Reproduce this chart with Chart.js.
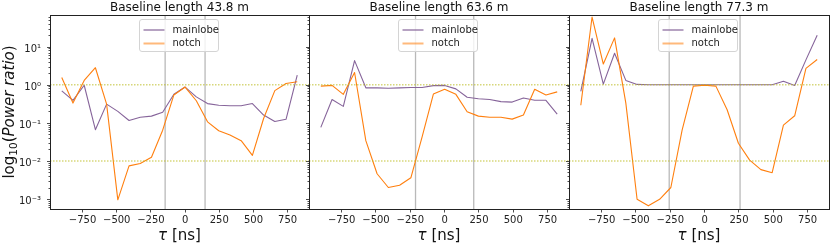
<!DOCTYPE html>
<html>
<head>
<meta charset="utf-8">
<script src="https://cdn.jsdelivr.net/npm/chart.js@4.4.1/dist/chart.umd.min.js"></script>
<style>
  html, body { margin: 0; padding: 0; background: #fff; }
  #wrap { position: relative; width: 830px; height: 243px; overflow: hidden; }
  canvas { position: absolute; top: 0; }
</style>
</head>
<body>
<div id="wrap">
  <canvas id="p0" width="312" height="243" style="left:0px"></canvas>
  <canvas id="p1" width="272" height="243" style="left:300px"></canvas>
  <canvas id="p2" width="270" height="243" style="left:560px"></canvas>
</div>
<script>
// delay bins (ns)
const tau = [-902, -820, -738, -656, -574, -492, -410, -328, -246, -164, -82, 0,
             82, 164, 246, 328, 410, 492, 574, 656, 738, 820];

const baselines = ['43.8', '63.6', '77.3'];
// horizon delay for each baseline (ns)
const horizonNs = [146, 212, 258];

const mainlobe43 = [0.69, 0.39, 0.97, 0.066, 0.31, 0.20, 0.115, 0.14, 0.15, 0.19, 0.56, 0.87,
                    0.48, 0.32, 0.29, 0.28, 0.28, 0.32, 0.16, 0.108, 0.124, 1.8];
const notch43 = [1.55, 0.33, 1.3, 2.8, 0.31, 0.00095, 0.0074, 0.0085, 0.0125, 0.064, 0.54, 0.87,
                 0.38, 0.106, 0.062, 0.048, 0.034, 0.014, 0.13, 0.70, 1.08, 1.2];

const mainlobe63 = [0.076, 0.41, 0.27, 4.3, 0.83, 0.83, 0.81, 0.83, 0.85, 0.85, 0.95, 0.96,
                    0.78, 0.47, 0.43, 0.41, 0.36, 0.35, 0.45, 0.39, 0.39, 0.17];
const notch63 = [0.92, 0.96, 0.56, 2.1, 0.034, 0.0046, 0.0020, 0.0023, 0.0036, 0.043, 0.57, 0.76,
                 0.56, 0.195, 0.15, 0.14, 0.14, 0.125, 0.16, 0.76, 0.54, 0.65];

const mainlobe77 = [0.67, 16.5, 1.04, 6.7, 1.3, 1.02, 1.0, 1.0, 1.0, 1.0, 1.0, 1.0,
                    1.0, 1.0, 1.0, 1.0, 1.0, 1.0, 1.24, 0.96, 4.5, 20];
const notch77 = [0.29, 60, 3.5, 17, 0.33, 0.00098, 0.00066, 0.00098, 0.0020, 0.064, 0.92, 0.97,
                 0.92, 0.22, 0.029, 0.0105, 0.0059, 0.0049, 0.087, 0.153, 2.7, 4.6];

const xTicks = [-750, -500, -250, 0, 250, 500, 750];
const refLevels = [1, 0.01];

const mainColor = '#86649a';
const notchColor = '#ff7f0e';
const FONT = "'DejaVu Sans', sans-serif";

Chart.defaults.font.family = FONT;
Chart.defaults.color = '#222';

const sup = s => s.replace(/[-0-9]/g, c => '⁻⁰¹²³⁴⁵⁶⁷⁸⁹'['-0123456789'.indexOf(c)]);

const decor = {
  id: 'decor',
  beforeDatasetsDraw(chart, args, o) {
    const {ctx, chartArea: a, scales: {x}} = chart;
    ctx.save();
    ctx.strokeStyle = 'rgba(128,128,128,0.55)';
    ctx.lineWidth = 1.3;
    [-o.horizon, o.horizon].forEach(v => {
      const px = x.getPixelForValue(v);
      ctx.beginPath(); ctx.moveTo(px, a.top); ctx.lineTo(px, a.bottom); ctx.stroke();
    });
    ctx.restore();
  },
  afterDatasetsDraw(chart) {
    const {ctx, chartArea: a, scales: {y}} = chart;
    ctx.save();
    ctx.strokeStyle = 'rgba(188,189,34,0.6)';
    ctx.lineWidth = 1.5;
    ctx.setLineDash([1.5, 1.5]);
    refLevels.forEach(v => {
      const py = y.getPixelForValue(v);
      ctx.beginPath(); ctx.moveTo(a.left, py); ctx.lineTo(a.right, py); ctx.stroke();
    });
    ctx.restore();
  },
  afterDraw(chart, args, o) {
    const {ctx, chartArea: a, scales: {y}} = chart;
    ctx.save();
    // frame
    ctx.strokeStyle = '#222';
    ctx.lineWidth = 1;
    ctx.strokeRect(Math.round(a.left) + 0.5, Math.round(a.top) + 0.5,
                   Math.round(a.right - a.left), Math.round(a.bottom - a.top));
    // y ticks, major + minor
    ctx.lineWidth = 0.8;
    y.ticks.forEach(t => {
      const lg = Math.log10(t.value);
      const major = Math.abs(lg - Math.round(lg)) < 1e-6;
      const py = Math.round(y.getPixelForValue(t.value)) + 0.5;
      ctx.beginPath();
      ctx.moveTo(a.left + 0.5, py);
      ctx.lineTo(a.left + 0.5 - (major ? 3.5 : 2), py);
      ctx.stroke();
    });

    // legend
    const bw = 79, bh = 32;
    const bx = Math.round((a.left + a.right) / 2 - 1.5 - bw / 2) + 0.5;
    const by = a.top + 4.5;
    ctx.beginPath();
    ctx.roundRect(bx, by, bw, bh, 2.5);
    ctx.fillStyle = 'rgba(255,255,255,0.8)';
    ctx.fill();
    ctx.strokeStyle = '#d4d4d4';
    ctx.lineWidth = 1;
    ctx.stroke();
    const legStyle = [{c: mainColor, w: 1.2}, {c: 'rgba(255,127,14,0.55)', w: 2}];
    ctx.font = '10px ' + FONT;
    ctx.textBaseline = 'middle';
    ctx.textAlign = 'left';
    chart.data.datasets.forEach((ds, i) => {
      const ry = by + 10.5 + i * 13.5;
      ctx.strokeStyle = legStyle[i].c;
      ctx.lineWidth = legStyle[i].w;
      ctx.beginPath(); ctx.moveTo(bx + 4, ry); ctx.lineTo(bx + 25, ry); ctx.stroke();
      ctx.fillStyle = '#222';
      ctx.fillText(ds.label, bx + 33, ry);
    });

    // title
    const cx = (a.left + a.right) / 2;
    ctx.fillStyle = '#111';
    ctx.textAlign = 'center';
    ctx.textBaseline = 'alphabetic';
    ctx.font = '12px ' + FONT;
    ctx.fillText('Baseline length ' + o.title + ' m', cx, 10.5);

    // x label: τ [ns]
    ctx.textAlign = 'left';
    ctx.font = 'italic 15px ' + FONT;
    const wTau = ctx.measureText('τ').width;
    ctx.font = '15px ' + FONT;
    const wRest = ctx.measureText(' [ns]').width;
    let sx = cx - (wTau + wRest) / 2;
    ctx.font = 'italic 15px ' + FONT;
    ctx.fillText('τ', sx, 239.5);
    ctx.font = '15px ' + FONT;
    ctx.fillText(' [ns]', sx + wTau, 239.5);

    // y label: log10(Power ratio)
    if (o.yLabel) {
      const parts = [
        {t: 'log', f: '15px ' + FONT, dy: 0},
        {t: '10', f: '10.5px ' + FONT, dy: 3.5},
        {t: '(', f: '15px ' + FONT, dy: 0},
        {t: 'Power ratio', f: 'italic 15px ' + FONT, dy: 0},
        {t: ')', f: '15px ' + FONT, dy: 0}
      ];
      let tot = 0;
      parts.forEach(p => { ctx.font = p.f; p.w = ctx.measureText(p.t).width; tot += p.w; });
      ctx.translate(13.5, (a.top + a.bottom) / 2);
      ctx.rotate(-Math.PI / 2);
      let px = -tot / 2;
      parts.forEach(p => { ctx.font = p.f; ctx.fillText(p.t, px, p.dy); px += p.w; });
    }
    ctx.restore();
  }
};

function makePanel(id, title, horizon, mainlobe, notch, yWidth, padRight, yLabel) {
  return new Chart(document.getElementById(id), {
    type: 'line',
    data: {
      datasets: [
        { label: 'mainlobe', data: tau.map((t, i) => ({x: t, y: mainlobe[i]})),
          borderColor: mainColor, borderWidth: 1.1, pointRadius: 0, tension: 0,
          borderJoinStyle: 'round', order: 1 },
        { label: 'notch', data: tau.map((t, i) => ({x: t, y: notch[i]})),
          borderColor: notchColor, borderWidth: 1.1, pointRadius: 0, tension: 0,
          borderJoinStyle: 'round', order: 0 }
      ]
    },
    options: {
      responsive: false,
      animation: false,
      devicePixelRatio: 1,
      events: [],
      layout: { padding: { top: 15, right: padRight, left: 0, bottom: 0 } },
      plugins: {
        legend: { display: false },
        tooltip: { enabled: false },
        decor: { title: title, horizon: horizon, yLabel: yLabel }
      },
      scales: {
        x: {
          type: 'linear', min: -988, max: 906,
          afterFit: s => { s.height = 34; },
          afterBuildTicks: s => { s.ticks = xTicks.map(v => ({value: v})); },
          grid: { drawOnChartArea: false, tickLength: 3.5, tickColor: '#222', tickWidth: 0.8 },
          border: { display: false },
          ticks: {
            autoSkip: false, maxRotation: 0, padding: 2, color: '#222',
            font: { size: 10 },
            callback: v => v < 0 ? '\u2212' + (-v) : String(v)
          }
        },
        y: {
          type: 'logarithmic', min: 5.45e-4, max: 67.9,
          afterFit: s => { s.width = yWidth; },
          afterBuildTicks: s => {
            const t = [];
            for (let e = -4; e <= 1; e++) {
              for (let d = 1; d <= 9; d++) {
                const v = Number((d * Math.pow(10, e)).toPrecision(3));
                if (v >= s.min && v <= s.max) t.push({value: v});
              }
            }
            s.ticks = t;
          },
          grid: { display: true, drawOnChartArea: false, drawTicks: false },
          border: { display: false },
          ticks: {
            autoSkip: false, padding: 9, color: '#222', labelOffset: 2.5,
            font: { size: 10 },
            callback: v => {
              if (!yLabel) return '';
              const lg = Math.log10(v), e = Math.round(lg);
              return Math.abs(lg - e) < 1e-6 ? '10' + sup(String(e)) : '';
            }
          }
        }
      }
    },
    plugins: [decor]
  });
}

makePanel('p0', baselines[0], horizonNs[0], mainlobe43, notch43, 50, 3, true);
makePanel('p1', baselines[1], horizonNs[1], mainlobe63, notch63, 9, 3, false);
makePanel('p2', baselines[2], horizonNs[2], mainlobe77, notch77, 9, 1, false);
</script>
</body>
</html>
